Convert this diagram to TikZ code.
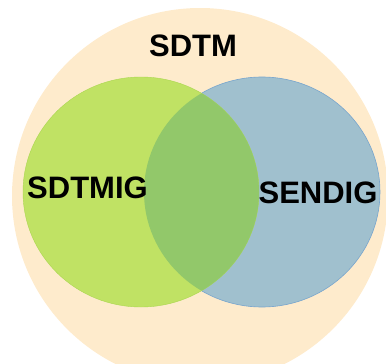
\documentclass[tikz,border=0pt]{standalone}
\usepackage{fontspec}
\setmainfont{Liberation Sans}
\definecolor{beige}{RGB}{254,235,204}
\definecolor{lgreen}{RGB}{192,226,100}
\definecolor{lblue}{RGB}{160,192,206}
\definecolor{overlap}{RGB}{146,200,106}
\definecolor{blueedge}{RGB}{120,165,205}
\definecolor{greenedge}{RGB}{170,215,80}
\tikzset{
  lbl/.style={font=\fontsize{31}{31}\selectfont\bfseries, inner sep=0pt, text=black},
}
\begin{document}
\begin{tikzpicture}[x=1pt,y=-1pt]
\useasboundingbox (0,0) rectangle (386,364);
\begin{scope}
\clip (0,0) rectangle (386,364);
\fill[beige] (200,196) circle (188);
\fill[lblue, draw=blueedge, line width=0.6pt] (262,192) ellipse (118 and 115);
\fill[lgreen, draw=greenedge, line width=0.4pt] (141,192) ellipse (118 and 115);
\begin{scope}
\clip (262,192) ellipse (118 and 115);
\fill[overlap] (141,192) ellipse (118 and 115);
\end{scope}
\end{scope}
\node[lbl] (sdtm) at (193,46) {SDTM};
\node[lbl] (sdtmig) at (87.5,188) {SDTMIG};
\node[lbl] (sendig) at (318,193) {SENDIG};
\end{tikzpicture}
\end{document}
